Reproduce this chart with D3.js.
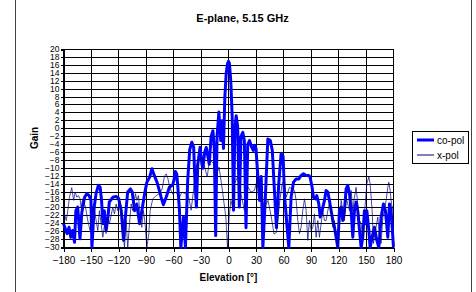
<!DOCTYPE html>
<html><head><meta charset="utf-8">
<script src="https://cdn.jsdelivr.net/npm/d3@7"></script>
<style>
body{margin:0;background:#fff}
svg{display:block;font-family:"Liberation Sans",Arial,sans-serif}
</style>
</head><body><svg id="c" width="476" height="292"></svg>
<script>
const chartTitle = "E-plane, 5.15 GHz";
const xTitle = "Elevation [°]";
const yTitle = "Gain";
const seriesNames = ["co-pol", "x-pol"];
const xTicks = [-180, -150, -120, -90, -60, -30, 0, 30, 60, 90, 120, 150, 180];
const yTicks = [-30,-28,-26,-24,-22,-20,-18,-16,-14,-12,-10,-8,-6,-4,-2,0,2,4,6,8,10,12,14,16,18,20];

const coAngle = [-180,-176,-174,-172,-170,-168,-166.5,-164.5,-162,-160,-157,-154.5,-152,-150,-149,-146.5,-144.5,-142,-140,-138.5,-137,-135.5,-133.5,-131.5,-130,-126,-123,-120,-117,-114.5,-112.5,-110,-107,-105,-102.5,-100,-97,-94.5,-91.5,-89,-86,-83.5,-81,-78,-75.5,-73.5,-71,-68,-64.5,-61,-59.5,-58,-56.5,-55.5,-53.5,-52,-50.5,-49,-47,-45.5,-44.5,-42.3,-40,-38,-36.8,-35,-33.5,-31,-29,-28,-26,-24.3,-22.5,-21,-19,-17,-15.5,-14,-12.5,-10.5,-8.5,-7,-5.5,-4,-2.5,-1,0,1,2.5,4,5.5,7,8.4,10,11.8,13.6,15.6,17.3,19.1,21,22.9,25,27,28.4,30,31.3,33.9,35.7,37.5,40.1,42.9,45.6,47.8,49.7,52.3,54.8,57.4,59.6,61,63.6,65.8,68.3,70.9,73.8,76.7,79.2,81.8,84.7,87.6,89,91.2,92.7,94.9,96.3,98.5,100,102.1,104.7,106.5,108.3,110.1,112,113.8,115.6,117.4,119.2,121,122.9,124.7,126.5,128.3,130.1,132,133.8,135.6,137.4,139.2,141,142.9,144.7,146.5,148.3,149.4,150.9,153.1,154.5,156.7,159.2,161.8,164,166.5,169,171.2,173.8,175.6,177.4,180];
const coGain = [-24,-26.5,-24.9,-27.4,-25.7,-28.7,-20.7,-19.8,-27.8,-21.1,-17.3,-16.4,-16.9,-18.1,-30,-19.8,-16.4,-14.3,-14.8,-18.1,-24,-20.7,-25.7,-22.3,-18.5,-17.3,-17.1,-17.5,-20.7,-28.2,-22.3,-16,-15.2,-16,-20.7,-19,-24,-20.7,-16.4,-13.5,-12.2,-10.1,-11.8,-13.5,-15.6,-17.3,-19.2,-17.3,-14.8,-14.3,-13,-10.8,-11.5,-13.9,-20.6,-30,-26,-22.3,-30,-20,-12.9,-5.3,-3.4,-4.7,-12.2,-19.8,-9,-4.7,-9,-10,-6,-4.7,-7,-9,-2,-0.5,-5,-27,-2,4.2,-3,2,-5,8,14,16.5,17,16.5,12,3,-20.6,0,3.3,0.5,-19.8,-2,-0.9,-3,-25,-4,-3,-4.5,-5.5,-4.2,-5,-9.7,-18.1,-12.1,-30,-18,-2.6,-3,-5.5,-13.9,-25,-13.9,-6.3,-7,-16.4,-24,-30,-17.3,-13.5,-12.7,-12.7,-11.8,-11.4,-11.8,-11.8,-12.2,-14.8,-17.3,-17.7,-16.9,-19,-22.3,-20.7,-18.1,-15.6,-16,-18.1,-20.7,-23.2,-24.9,-27.4,-30,-20.7,-19.8,-23.2,-20.7,-15.2,-14.3,-16.4,-20.7,-27.4,-20.7,-18.5,-20.7,-25.7,-30,-27.4,-20.7,-24,-20.7,-25.7,-30,-27.4,-24.9,-28.2,-30,-22.3,-19,-20.7,-27.4,-19,-20.7,-30];

const xpAngle = [-180,-177,-175.3,-173.5,-171,-169,-167.3,-165.5,-163.7,-161.9,-160.8,-159,-156,-153.5,-151,-148,-146.2,-144.4,-142.6,-140.8,-139,-137.1,-135.3,-133.5,-131.7,-129.9,-126.2,-124.4,-122.6,-120.8,-119,-117.1,-115.3,-113.5,-111.7,-109.9,-108,-106.2,-104.4,-101.5,-100,-98.2,-96.4,-94.6,-92.8,-91,-89.1,-86.9,-85.5,-82.6,-78.9,-75.3,-72.4,-69.9,-68,-66.2,-64.4,-62.6,-60.8,-58,-56.3,-53.4,-50.8,-47.1,-43.4,-40.8,-38.6,-36,-34.2,-32.4,-30.5,-26.9,-23.2,-21.3,-19.5,-15.8,-14,-10.3,-6.6,-4.8,-2.9,-1.1,0.7,2.6,4.4,6.3,9.9,13.6,17.3,21,24.5,28.3,32,35.7,39.4,43.1,46.7,49.7,52.3,54.2,56,58.5,60.7,62.9,66.5,70.1,72,73.8,75.6,77.4,79.2,81,82.9,84.7,86.5,88.3,90.1,92,93.8,95.6,97.4,99.2,101,102.9,104.7,106.5,108.3,110.1,112,113.8,115.6,117.4,119.2,121,122.9,124.7,126.5,128.3,130,132,133.8,135.6,137.4,139.2,141,142.9,144.7,146.5,148.3,150.9,153.1,154.5,156.7,158.1,160.3,162.9,164.7,166.5,168.4,170.1,171.9,173.8,174.9,176.3,177.8,180];
const xpGain = [-20.7,-23.2,-20.7,-17.3,-14.9,-18.1,-16,-17.3,-16.9,-17.7,-19.8,-17.7,-19.8,-23.2,-25.7,-19.8,-20.7,-23.2,-25.7,-20.7,-24,-27.4,-24.4,-26.5,-22.3,-24,-19.8,-21.5,-19,-20.7,-18.1,-19.8,-24.9,-30,-23.2,-30,-24,-19,-20.7,-16.4,-18.1,-16.9,-22.3,-24.9,-20.7,-24,-30,-26.5,-20.7,-17.7,-16.9,-16.4,-15.2,-12,-11.4,-12.5,-14.5,-15.6,-16.5,-16,-16.4,-17.3,-16,-16.4,-17.3,-20.6,-16.4,-10.6,-8.9,-8.1,-7.2,-8.9,-12.2,-8.9,-8.1,-8.9,-12.2,-9.7,-15.6,-19,-22.3,-30,-22.3,-18.1,-19.8,-13.9,-12.2,-16.4,-20.6,-14.7,-16,-15.6,-12.2,-17.3,-19.8,-18.1,-22.3,-26.6,-26.2,-22.3,-18.1,-13.9,-13,-17.3,-14.8,-15.2,-15.6,-18.1,-23.2,-26.5,-24.9,-20.7,-17.7,-20.7,-28.2,-23.2,-25.7,-24.9,-21.5,-27.4,-23.2,-27.4,-24,-20.7,-23.2,-23.2,-20.7,-19,-20.7,-24.9,-23.2,-27.4,-30,-24.9,-18.1,-20.7,-23.2,-17.3,-19,-20.7,-15.6,-20.7,-17.3,-14.8,-19,-23.2,-24,-27.4,-21.5,-13.9,-12.2,-13.9,-20.7,-29,-25.7,-22.3,-27.4,-29,-22.3,-20.7,-18.1,-14.8,-13.5,-15.6,-19,-21];

const svg = d3.select("#c");
const L = 63.5, R = 393.5, T = 49.5, B = 247.5;
const x = d3.scaleLinear().domain([-180, 180]).range([L, R]);
const y = d3.scaleLinear().domain([-30, 20]).range([B, T]);
const snap = v => Math.round(v - 0.5) + 0.5;

// outer chart frame edges
svg.append("line").attr("x1",15.5).attr("x2",15.5).attr("y1",0).attr("y2",292).attr("stroke","#444");
svg.append("line").attr("x1",471.5).attr("x2",471.5).attr("y1",0).attr("y2",292).attr("stroke","#444");

// title
svg.append("text").attr("x",242.5).attr("y",21.5).attr("text-anchor","middle")
  .attr("font-size","11px").attr("font-weight","bold").text(chartTitle);

// grid
const grid = svg.append("g").attr("stroke","#000").attr("stroke-width",1).attr("shape-rendering","crispEdges");
grid.selectAll(".hg").data(yTicks).join("line")
  .attr("x1",L).attr("x2",R).attr("y1",d=>snap(y(d))).attr("y2",d=>snap(y(d)));
grid.selectAll(".vg").data(xTicks).join("line")
  .attr("y1",T).attr("y2",B).attr("x1",d=>snap(x(d))).attr("x2",d=>snap(x(d)));

// axes
const xAxis = svg.append("g").attr("transform",`translate(0,${B})`)
  .call(d3.axisBottom(x).tickValues(xTicks).tickSize(4).tickPadding(5).tickFormat(d3.format("d")));
const yAxis = svg.append("g").attr("transform",`translate(${L},0)`)
  .call(d3.axisLeft(y).tickValues(yTicks).tickSize(3).tickPadding(1).tickFormat(d3.format("d")));
[xAxis, yAxis].forEach(g => {
  g.select(".domain").attr("stroke","#000").attr("shape-rendering","crispEdges");
  g.selectAll(".tick line").attr("stroke","#000").attr("shape-rendering","crispEdges");
  g.selectAll("text").attr("fill","#000").attr("font-family","'Liberation Sans',Arial,sans-serif");
});
xAxis.selectAll("text").attr("font-size","10px");
yAxis.selectAll("text").attr("font-size","8.5px");
yAxis.selectAll(".tick").attr("transform", d => `translate(0,${snap(y(d))})`);

// axis titles
svg.append("text").attr("x",228.5).attr("y",281).attr("text-anchor","middle")
  .attr("font-size","10px").attr("font-weight","bold").text(xTitle);
svg.append("text").attr("transform","translate(38,138) rotate(-90)").attr("text-anchor","middle")
  .attr("font-size","10px").attr("font-weight","bold").text(yTitle);

// series
svg.append("clipPath").attr("id","pc").append("rect")
  .attr("x",L-2).attr("y",T-2).attr("width",R-L+4).attr("height",B-T+4);
const line = d3.line().x(d=>x(d[0])).y(d=>y(d[1]));
const coData = coAngle.map((a,i)=>[a, coGain[i]]);
const xpData = xpAngle.map((a,i)=>[a, xpGain[i]]);
svg.append("path").datum(coData).attr("d",line).attr("fill","none")
  .attr("stroke","#0000ff").attr("stroke-width",3).attr("stroke-linejoin","round").attr("clip-path","url(#pc)");
svg.append("path").datum(xpData).attr("d",line).attr("fill","none")
  .attr("stroke","#000080").attr("stroke-width",1).attr("stroke-opacity",0.7).attr("stroke-linejoin","round").attr("clip-path","url(#pc)");

// legend
const lg = svg.append("g");
lg.append("rect").attr("x",412.5).attr("y",131.5).attr("width",56).attr("height",32)
  .attr("fill","#fff").attr("stroke","#000");
const lStyles = [{c:"#0000ff", w:3}, {c:"#000080", w:1}];
seriesNames.forEach((n,i) => {
  const yy = 140 + i*15;
  lg.append("line").attr("x1",417).attr("x2",434).attr("y1",yy).attr("y2",yy)
    .attr("stroke",lStyles[i].c).attr("stroke-width",lStyles[i].w);
  lg.append("text").attr("x",437).attr("y",yy+3.5).attr("font-size","10px").text(n);
});
</script></body></html>
